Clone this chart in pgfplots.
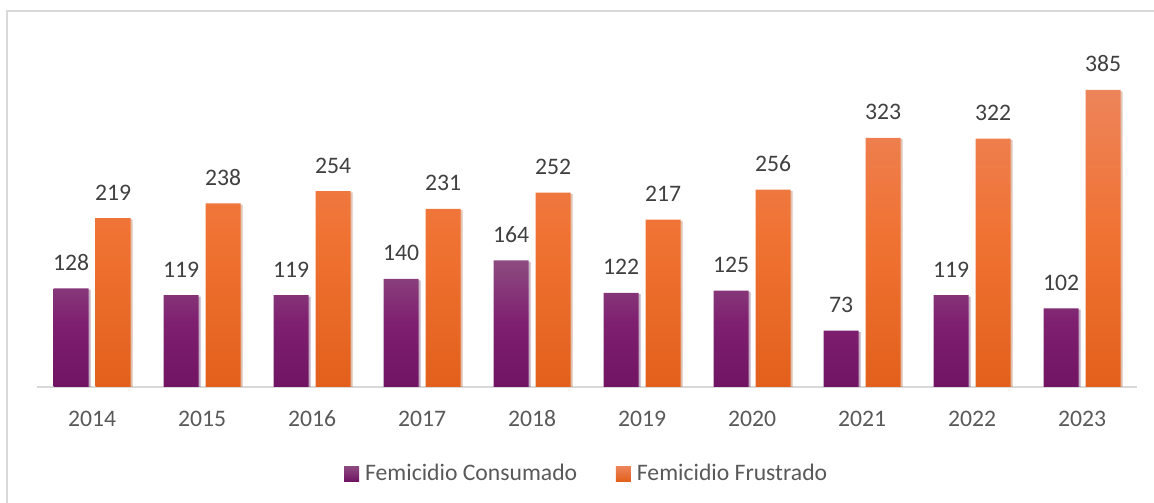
\documentclass[border=0pt]{standalone}
\usepackage{pgfplots}
\pgfplotsset{compat=1.18}
\usepackage{fontspec}
\setmainfont{Carlito}
\usetikzlibrary{shadows}
\definecolor{txt}{HTML}{595959}
\definecolor{lbl}{HTML}{404040}
\definecolor{pTop}{HTML}{8D4B80}
\definecolor{pMid}{HTML}{7E1F70}
\definecolor{pBot}{HTML}{701463}
\definecolor{oTop}{HTML}{ED845A}
\definecolor{oMid}{HTML}{F07232}
\definecolor{oBot}{HTML}{E2601B}
\definecolor{frm}{HTML}{D9D9D9}
\begin{document}
\begin{tikzpicture}
\useasboundingbox (-27.75pt,-87pt) rectangle (837.75pt,290.25pt);
\draw[frm, line width=1.5pt] (-22.5pt,-90pt) -- (-22.5pt,282pt) -- (840pt,282pt);
\begin{axis}[
  at={(0,0)}, anchor=south west, scale only axis,
  width=825pt, height=260.36pt,
  xmin=-0.5, xmax=9.5, ymin=0, ymax=450,
  ybar, bar width=26.25pt,
  axis x line*=bottom, axis y line=none,
  axis line style={frm, line width=1.5pt, -},
  xtick={0,1,2,3,4,5,6,7,8,9},
  xticklabels={2014,2015,2016,2017,2018,2019,2020,2021,2022,2023},
  major tick length=0pt,
  xticklabel style={font=\fontsize{17.75}{20}\selectfont, text=txt, anchor=base, inner sep=0pt, yshift=-30pt},
  nodes near coords,
  every node near coord/.append style={font=\fontsize{17.75}{20}\selectfont, text=lbl, anchor=base, inner sep=0pt, yshift=13.5pt},
  /pgf/number format/assume math mode=true,
  legend columns=2,
  legend image code/.code={\path[#1] (0pt,-5.6pt) rectangle (11.25pt,5.6pt);},
  legend style={draw=none, fill=none, at={(0.5,0)}, anchor=center, yshift=-65pt,
    font=\fontsize{17.75}{20}\selectfont, text=txt,
    /tikz/every odd column/.append style={column sep=2.5pt},
    /tikz/every even column/.append style={column sep=27pt}},
]
\addlegendimage{draw=none, top color=pTop, bottom color=pBot}
\addlegendentry{Femicidio Consumado}
\addlegendimage{draw=none, top color=oTop, bottom color=oBot}
\addlegendentry{Femicidio Frustrado}
\addplot[forget plot, bar shift=-15.75pt, draw=none, top color=pTop, bottom color=pBot, middle color=pMid,
  drop shadow={shadow xshift=1.5pt, shadow yshift=-1pt, opacity=0.25}]
  coordinates {(0,128) (1,119) (2,119) (3,140) (4,164) (5,122) (6,125) (7,73) (8,119) (9,102)};
\addplot[forget plot, bar shift=15.75pt, draw=none, top color=oTop, bottom color=oBot, middle color=oMid,
  drop shadow={shadow xshift=1.5pt, shadow yshift=-1pt, opacity=0.25}]
  coordinates {(0,219) (1,238) (2,254) (3,231) (4,252) (5,217) (6,256) (7,323) (8,322) (9,385)};
\end{axis}
\end{tikzpicture}
\end{document}
